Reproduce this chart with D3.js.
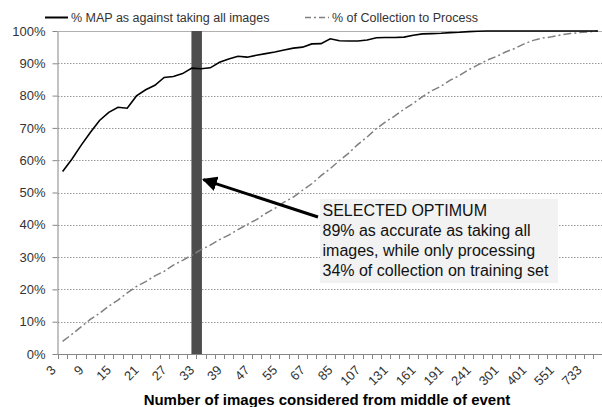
<!DOCTYPE html>
<html>
<head>
<meta charset="utf-8">
<script src="https://cdn.jsdelivr.net/npm/d3@7"></script>
<style>
  body { margin: 0; background: #fff; }
  text { font-family: "Liberation Sans", Arial, sans-serif; }
</style>
</head>
<body>
<div id="chart"></div>
<script>
// number of images (categories on the x axis)
var categories = [3, 5, 7, 9, 11, 13, 15, 17, 19, 21, 23, 25, 27, 29, 31, 33, 35, 37, 39, 41,
  44, 47, 49, 52, 55, 59, 63, 67, 73, 79, 85, 91, 99, 107, 115, 123, 131, 141, 151, 161,
  171, 181, 191, 207, 223, 241, 261, 281, 301, 331, 361, 401, 451, 501, 551, 611, 671, 733, 801]

// labels shown under the axis
var tickLabels = [3, 9, 15, 21, 27, 33, 39, 47, 55, 67, 85, 107, 131, 161, 191, 241, 301, 401, 551, 733]

// % MAP as against taking all images
var mapValues = [56.5, 60.3, 64.6, 68.6, 72.3, 74.8, 76.4, 76.1, 79.9, 81.8, 83.2, 85.6, 85.9, 86.8, 88.5,
  88.3, 88.6, 90.3, 91.3, 92.2, 91.9, 92.5, 93.0, 93.5, 94.1, 94.7, 95.0, 96.0, 96.1, 97.6,
  97.0, 96.9, 96.9, 97.2, 97.9, 98.0, 98.0, 98.1, 98.7, 99.1, 99.2, 99.3, 99.5, 99.6, 99.8,
  99.9, 100, 100, 100, 100, 100, 100, 100, 100, 100, 100, 100, 100, 100]

// % of collection to process
var collValues = [3.9, 6.1, 8.4, 10.7, 12.6, 14.8, 16.7, 18.9, 20.9, 22.4, 24.2, 25.6, 27.5, 29.0, 30.6,
  32.3, 33.7, 35.4, 36.8, 38.5, 40.1, 41.6, 43.5, 45.1, 47.0, 48.6, 50.7, 52.7, 55.2, 57.4,
  59.9, 62.2, 64.9, 67.2, 69.8, 71.9, 73.7, 75.8, 77.6, 79.7, 81.5, 82.9, 84.8, 86.2, 88.0,
  89.5, 91.0, 92.1, 93.5, 94.6, 96.0, 97.1, 97.8, 98.2, 98.8, 99.2, 99.5, 99.7, 100]

var seriesNames = ["% MAP as against taking all images", "% of Collection to Process"]

var optimum = 33
var noteLines = ["SELECTED OPTIMUM", "89% as accurate as taking all",
  "images, while only processing", "34% of collection on training set"]

// set the dimensions of the graph
var width = 602
var height = 407
var plotL = 58, plotR = 602.5, plotT = 31, plotB = 354

var svg = d3.select("#chart")
  .append("svg")
    .attr("width", width)
    .attr("height", height)

var x = d3.scaleBand()
  .domain(categories)
  .range([plotL, plotR])

var y = d3.scaleLinear()
  .domain([0, 100])
  .range([plotB, plotT])

var cx = function(c){ return x(c) + x.bandwidth() / 2 }

// gridlines
svg.append("g")
  .selectAll("line")
  .data(d3.range(10, 101, 10))
  .enter()
  .append("line")
    .attr("x1", plotL)
    .attr("x2", plotR)
    .attr("y1", function(d){ return Math.round(y(d)) + 0.5 })
    .attr("y2", function(d){ return Math.round(y(d)) + 0.5 })
    .attr("stroke", function(d){ return d == 100 ? "#b0b0b0" : "#9a9a9a" })
    .attr("stroke-dasharray", function(d){ return d == 100 ? null : "1.5,1.5" })

// optimum bar
svg.append("rect")
  .attr("x", x(optimum) - 5)
  .attr("y", y(100))
  .attr("width", 10.5)
  .attr("height", y(0) - y(100))
  .attr("fill", "#4d4d4d")

// y axis
var yAxis = svg.append("g")
  .attr("transform", "translate(" + (plotL - 0.5) + ",0)")
  .call(d3.axisLeft(y)
    .tickValues(d3.range(0, 101, 10))
    .tickFormat(function(d){ return d + "%" })
    .tickSize(5)
    .tickSizeOuter(0))
yAxis.select(".domain").attr("stroke", "#868686")
yAxis.selectAll(".tick line").attr("stroke", "#868686")
yAxis.selectAll(".tick text")
  .attr("x", -12)
  .attr("fill", "#333")
  .style("font-size", "13px")
  .style("font-family", "Liberation Sans, Arial, sans-serif")

// x axis line and ticks between categories
var xg = svg.append("g")
xg.append("line")
  .attr("x1", plotL - 0.5)
  .attr("x2", plotR)
  .attr("y1", plotB + 0.5)
  .attr("y2", plotB + 0.5)
  .attr("stroke", "#868686")
xg.selectAll(".tk")
  .data(categories)
  .enter()
  .append("line")
    .attr("class", "tk")
    .attr("x1", function(d){ return Math.round(x(d)) + 0.5 })
    .attr("x2", function(d){ return Math.round(x(d)) + 0.5 })
    .attr("y1", plotB)
    .attr("y2", plotB + 5)
    .attr("stroke", "#868686")

xg.selectAll(".lbl")
  .data(tickLabels)
  .enter()
  .append("text")
    .attr("class", "lbl")
    .attr("transform", function(d){ return "translate(" + (cx(d) - 6) + "," + (plotB + 17) + ") rotate(-45)" })
    .attr("text-anchor", "end")
    .attr("fill", "#333")
    .style("font-size", "13px")
    .text(function(d){ return d })

// x axis title
svg.append("text")
  .attr("x", 327)
  .attr("y", 405)
  .attr("text-anchor", "middle")
  .style("font-size", "15px")
  .style("font-weight", "bold")
  .attr("fill", "#000")
  .text("Number of images considered from middle of event")

// lines
var line = function(vals){
  return d3.line()
    .x(function(d, i){ return cx(categories[i]) })
    .y(function(d){ return y(d) })(vals)
}

svg.append("path")
  .attr("d", line(collValues))
  .attr("fill", "none")
  .attr("stroke", "#808080")
  .attr("stroke-width", 1.5)
  .attr("stroke-dasharray", "8,3,2,3")

svg.append("path")
  .attr("d", line(mapValues))
  .attr("fill", "none")
  .attr("stroke", "#000")
  .attr("stroke-width", 1.6)

// legend
var legend = svg.append("g")
legend.append("line")
  .attr("x1", 45).attr("x2", 68).attr("y1", 17.5).attr("y2", 17.5)
  .attr("stroke", "#000").attr("stroke-width", 2)
legend.append("text")
  .attr("x", 71).attr("y", 22)
  .style("font-size", "12.5px").attr("fill", "#333")
  .text(seriesNames[0])
legend.append("line")
  .attr("x1", 305).attr("x2", 329).attr("y1", 17.5).attr("y2", 17.5)
  .attr("stroke", "#808080").attr("stroke-width", 1.5)
  .attr("stroke-dasharray", "6,3,2,3")
legend.append("text")
  .attr("x", 332).attr("y", 22)
  .style("font-size", "12.5px").attr("fill", "#333")
  .text(seriesNames[1])

// annotation box
svg.append("rect")
  .attr("x", 320)
  .attr("y", 199)
  .attr("width", 238)
  .attr("height", 84)
  .attr("fill", "#f2f2f2")

svg.append("g")
  .selectAll("text")
  .data(noteLines)
  .enter()
  .append("text")
    .attr("x", 322.5)
    .attr("y", function(d, i){ return 216 + i * 20 })
    .style("font-size", "16px")
    .attr("fill", "#111")
    .text(function(d){ return d })

// arrow
svg.append("defs").append("marker")
  .attr("id", "head")
  .attr("viewBox", "0 0 10 10")
  .attr("refX", 9).attr("refY", 5)
  .attr("markerWidth", 5).attr("markerHeight", 5)
  .attr("orient", "auto")
  .append("path")
    .attr("d", "M0,0 L10,5 L0,10 z")
    .attr("fill", "#000")

svg.append("line")
  .attr("x1", 318)
  .attr("y1", 217)
  .attr("x2", x(optimum) + 7)
  .attr("y2", y(54))
  .attr("stroke", "#000")
  .attr("stroke-width", 3)
  .attr("marker-end", "url(#head)")
</script>
</body>
</html>
